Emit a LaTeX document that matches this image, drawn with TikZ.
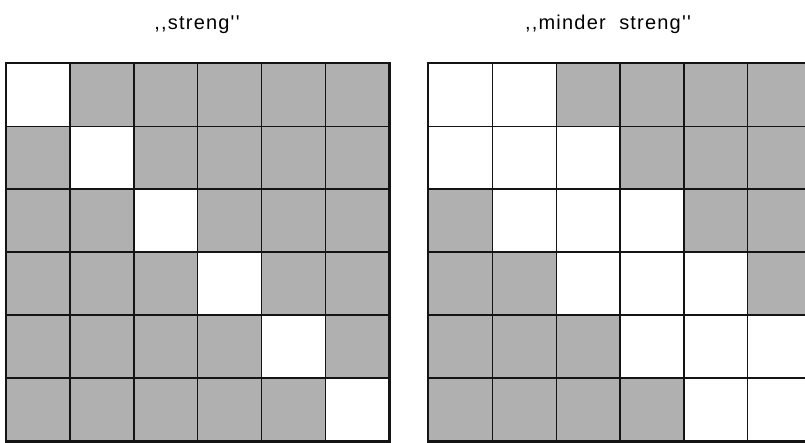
\documentclass[tikz,border=0pt]{standalone}
\usepackage{fontspec}
\setmainfont{Liberation Sans}
\newfontfamily\titlefont[LetterSpace=6]{Liberation Sans}
\usepackage{tikz}
\usetikzlibrary{positioning}
\definecolor{mydark}{RGB}{20,20,20}
\definecolor{myshade}{RGB}{176,176,176}
\tikzset{
  freecell/.style={rectangle, draw=mydark, fill=white, line width=1.4pt,
    minimum width=63.8pt, minimum height=62.9pt, inner sep=0pt, anchor=north west},
  shadecell/.style={freecell, fill=myshade},
  frame/.style={draw=mydark, line width=2pt},
  title/.style={font=\titlefont\fontsize{20}{24}\selectfont, anchor=base, inner sep=0pt}
}

\begin{document}
\begin{tikzpicture}[x=1pt, y=-1pt]
  \useasboundingbox (0,0) rectangle (805,443);
  \clip (0,0) rectangle (805,443);

  % Titles
  \node[title] (tstreng) at (197,30) {,,streng''};
  \node[title] (tminder) at (608,30) {,,minder\ \ streng''};

  % Left grid: only the diagonal is free
  \foreach \r in {1,...,6} {
    \foreach \c in {1,...,6} {
      \ifnum\r=\c
        \node[freecell] (s-\r-\c) at ({5.5+(\c-1)*63.8},{62.7+(\r-1)*62.9}) {};
      \else
        \node[shadecell] (s-\r-\c) at ({5.5+(\c-1)*63.8},{62.7+(\r-1)*62.9}) {};
      \fi
    }
  }
  \draw[frame] (s-1-1.north west) rectangle (s-6-6.south east);

  % Right grid: band around the diagonal is free
  \foreach \r in {1,...,6} {
    \foreach \c in {1,...,6} {
      \pgfmathtruncatemacro{\d}{abs(\r-\c)}
      \ifnum\d<2
        \node[freecell] (m-\r-\c) at ({428+(\c-1)*63.8},{62.7+(\r-1)*62.9}) {};
      \else
        \node[shadecell] (m-\r-\c) at ({428+(\c-1)*63.8},{62.7+(\r-1)*62.9}) {};
      \fi
    }
  }
  \draw[frame] (m-1-1.north west) rectangle (m-6-6.south east);
\end{tikzpicture}
\end{document}
